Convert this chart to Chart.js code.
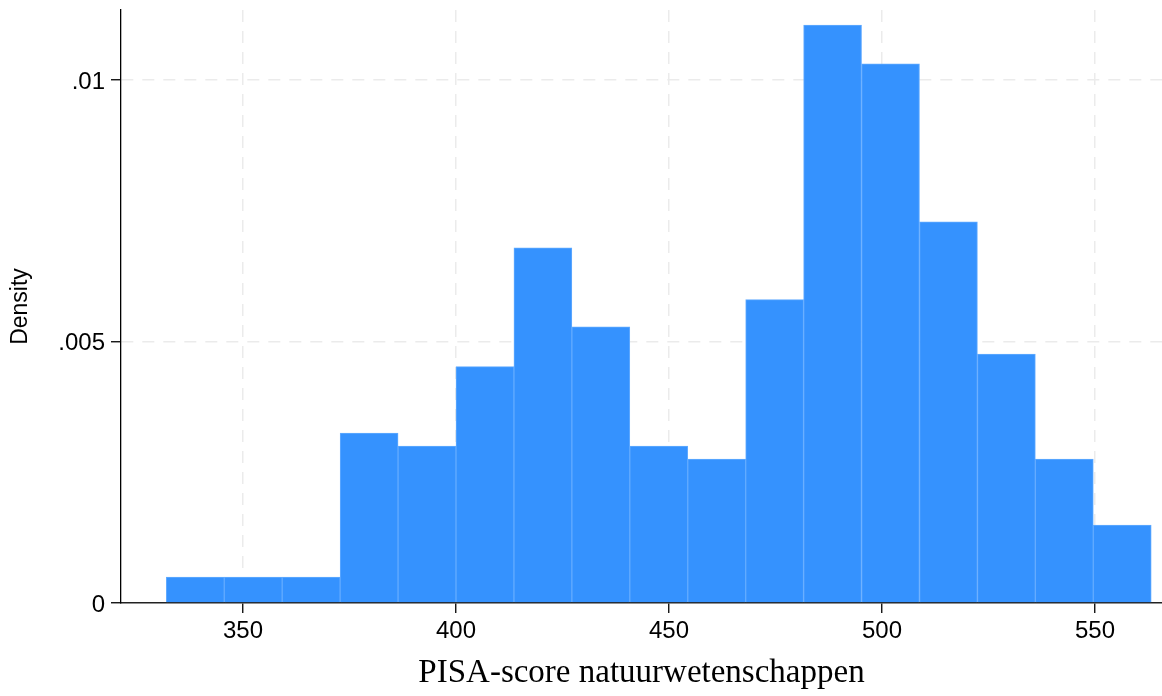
<!DOCTYPE html>
<html>
<head>
<meta charset="utf-8">
<title>PISA-score histogram</title>
<script src="https://cdn.jsdelivr.net/npm/chart.js@4.4.1/dist/chart.umd.min.js"></script>
<style>
  html, body { margin: 0; padding: 0; background: #fff; }
  canvas { display: block; }
</style>
</head>
<body>
<canvas id="hist" width="1162" height="696"></canvas>
<script>
// Bin midpoints (width 13.6, first bin starts at 332)
const binCenters = [338.8, 352.4, 366.0, 379.6, 393.2, 406.8, 420.4, 434.0, 447.6,
                    461.2, 474.8, 488.4, 502.0, 515.6, 529.2, 542.8, 556.4];
// Density per bin
const density = [0.000497, 0.000497, 0.000497, 0.00325, 0.00300, 0.00452, 0.00679,
                 0.00528, 0.00300, 0.00275, 0.00580, 0.01105, 0.01031, 0.00729,
                 0.00476, 0.00275, 0.00149];

const xTicks = [350, 400, 450, 500, 550];
const yTicks = [0, 0.005, 0.01];
const yTickLabels = ["0", ".005", ".01"];

const sans = "'Liberation Sans', Arial, Helvetica, sans-serif";
const serif = "'Liberation Serif', 'Times New Roman', serif";

const points = binCenters.map((x, i) => ({ x, y: density[i] }));

new Chart(document.getElementById("hist"), {
  type: "bar",
  data: {
    datasets: [{
      data: points,
      backgroundColor: "#3592fe",
      borderColor: "#62abff",
      borderWidth: 1,
      barPercentage: 1,
      categoryPercentage: 1
    }]
  },
  options: {
    responsive: false,
    animation: false,
    devicePixelRatio: 1,
    layout: { padding: { top: 10, right: 0, left: 0, bottom: 0 } },
    plugins: { legend: { display: false }, tooltip: { enabled: false } },
    scales: {
      x: {
        type: "linear",
        min: 321.36,
        max: 565.73,
        offset: false,
        afterBuildTicks: s => { s.ticks = xTicks.map(v => ({ value: v })); },
        afterFit: s => { s.height = 93; s.paddingRight = 0; s.paddingLeft = 0; },
        ticks: {
          color: "#000",
          font: { family: sans, size: 24 },
          padding: 4,
          maxRotation: 0,
          callback: v => String(v)
        },
        grid: {
          offset: false,
          color: "#ebebeb",
          lineWidth: 1.5,
          tickColor: "#000",
          tickLength: 10,
          tickWidth: 1.3
        },
        border: { display: true, color: "#222", width: 1.5, dash: [12, 9] },
        title: {
          display: true,
          text: "PISA-score natuurwetenschappen",
          color: "#000",
          font: { family: serif, size: 33, lineHeight: 1 },
          padding: { top: 0, bottom: 6 }
        }
      },
      y: {
        min: 0,
        max: 0.011338,
        afterBuildTicks: s => { s.ticks = yTicks.map(v => ({ value: v })); },
        afterFit: s => { s.width = 121; s.paddingTop = 0; s.paddingBottom = 0; },
        ticks: {
          color: "#000",
          font: { family: sans, size: 24 },
          padding: 6,
          labelOffset: 2,
          callback: (v, i) => yTickLabels[i]
        },
        grid: {
          color: ctx => (ctx.tick && ctx.tick.value === 0) ? "rgba(0,0,0,0)" : "#ebebeb",
          lineWidth: 1.5,
          tickColor: "#000",
          tickLength: 10,
          tickWidth: 1.3
        },
        border: { display: true, color: "#000", width: 1.3, dash: [12, 9] },
        title: {
          display: true,
          text: "Density",
          color: "#000",
          font: { family: sans, size: 23, lineHeight: 1 },
          padding: { top: 9, bottom: 0 }
        }
      }
    }
  }
});
</script>
</body>
</html>
